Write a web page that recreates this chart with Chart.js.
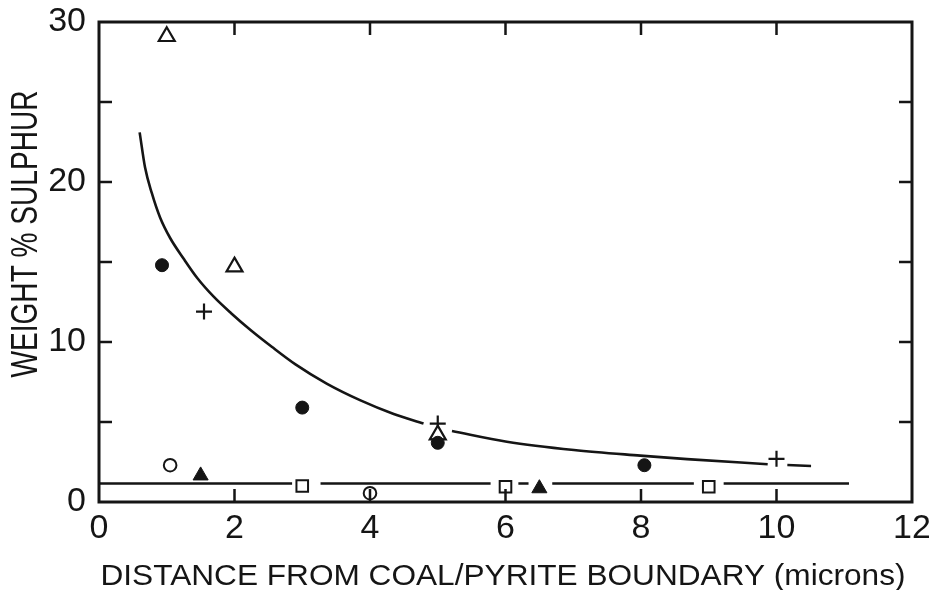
<!DOCTYPE html>
<html>
<head>
<meta charset="utf-8">
<script src="https://cdn.jsdelivr.net/npm/chart.js@4/dist/chart.umd.min.js"></script>
<style>
  html, body { margin: 0; padding: 0; background: #fff; }
  #wrap { width: 929px; height: 590px; position: relative; }
</style>
</head>
<body>
<div id="wrap"><canvas id="c" width="929" height="590"></canvas></div>
<script>
// Axis ranges and tick spacing
const xRange = [0, 12];
const xStep = 2;
const yRange = [0, 30];
const yStep = 5;
const yLabelEvery = 10;

// Axis titles
const xTitle = 'DISTANCE FROM COAL/PYRITE BOUNDARY (microns)';
const yTitle = 'WEIGHT % SULPHUR';

// Measured points, one pair of arrays per symbol
const filledCircleX = [0.93, 3.0, 5.0, 8.05];
const filledCircleY = [14.8, 5.9, 3.7, 2.3];
const openTriangleX = [1.0, 2.0, 5.0];
const openTriangleY = [29.1, 14.7, 4.2];
const plusX = [1.55, 5.0, 10.0];
const plusY = [11.9, 4.9, 2.7];
const openCircleX = [1.05, 4.0];
const openCircleY = [2.3, 0.55];
const filledTriangleX = [1.5, 6.5];
const filledTriangleY = [1.65, 0.85];
const squareX = [3.0, 6.0, 9.0];
const squareY = [1.0, 0.95, 0.95];

// Decay curve through the upper points (null = break around a symbol)
const curveX = [0.60, 0.68, 0.78, 0.90, 1.05, 1.25, 1.45, 1.70, 1.95, 2.25, 2.55, 2.90, 3.36, 3.86, 4.35, 4.79, null, 5.21, 6.02, 7.01, 7.99, 8.68, 9.87, null, 10.16, 10.51];
const curveY = [23.1, 20.9, 19.3, 17.8, 16.5, 15.2, 14.0, 12.8, 11.8, 10.7, 9.7, 8.6, 7.4, 6.35, 5.5, 4.9, null, 4.44, 3.77, 3.25, 2.9, 2.68, 2.36, null, 2.31, 2.25];

// Flat background level (null = break around a symbol)
const baseX = [0, 2.85, null, 3.27, 5.78, null, 6.19, 6.34, null, 6.69, 8.78, null, 9.22, 11.07];
const baseY = [1.16, 1.16, null, 1.16, 1.16, null, 1.16, 1.16, null, 1.16, 1.16, null, 1.16, 1.16];

const INK = '#151515';
const FONT = '"Liberation Sans", Arial, sans-serif';

const pts = (xs, ys) => xs.map((x, i) => ({ x: x === null ? 0 : x, y: ys[i] }));

function markerSet(xs, ys, style, radius, filled, border) {
  return {
    type: 'scatter',
    data: pts(xs, ys),
    pointStyle: style,
    pointRadius: radius,
    pointHoverRadius: radius,
    pointBackgroundColor: filled ? INK : '#fff',
    pointBorderColor: INK,
    pointBorderWidth: border,
    showLine: false
  };
}

function lineSet(xs, ys, width) {
  return {
    type: 'line',
    data: pts(xs, ys),
    borderColor: INK,
    borderWidth: width,
    pointRadius: 0,
    fill: false,
    spanGaps: false,
    cubicInterpolationMode: 'monotone',
    borderCapStyle: 'butt'
  };
}

// Scale sizes are fixed so the plot box sits where the figure wants it
function fixScale(size, key) {
  return s => {
    s[key] = size;
    s.paddingTop = s.paddingBottom = s.paddingLeft = s.paddingRight = 0;
  };
}

// Draw a string so that it spans a given length along its baseline
function fitText(ctx, text, x, y, length, angle) {
  ctx.save();
  ctx.translate(x, y);
  ctx.rotate(angle);
  const w = ctx.measureText(text).width;
  ctx.scale(length / w, 1);
  ctx.fillText(text, 0, 0);
  ctx.restore();
}

// Closed frame with inward ticks on all four sides, plus axis titles
const framePlugin = {
  id: 'frame',
  afterDatasetsDraw(chart) {
    const { ctx, chartArea: a, scales } = chart;
    const tl = 13;
    ctx.save();
    ctx.strokeStyle = INK;
    ctx.lineWidth = 3;
    ctx.lineCap = 'square';
    ctx.strokeRect(a.left, a.top, a.right - a.left, a.bottom - a.top);
    ctx.lineWidth = 2.5;
    ctx.lineCap = 'butt';
    ctx.beginPath();
    scales.x.ticks.forEach(t => {
      if (t.value <= xRange[0] || t.value >= xRange[1]) return;
      const px = scales.x.getPixelForValue(t.value);
      ctx.moveTo(px, a.bottom); ctx.lineTo(px, a.bottom - tl);
      ctx.moveTo(px, a.top); ctx.lineTo(px, a.top + tl);
    });
    scales.y.ticks.forEach(t => {
      if (t.value <= yRange[0] || t.value >= yRange[1]) return;
      const py = scales.y.getPixelForValue(t.value);
      ctx.moveTo(a.left, py); ctx.lineTo(a.left + tl, py);
      ctx.moveTo(a.right, py); ctx.lineTo(a.right - tl, py);
    });
    ctx.stroke();
    ctx.restore();
  },
  afterDraw(chart) {
    const { ctx } = chart;
    ctx.save();
    ctx.fillStyle = INK;
    ctx.textAlign = 'center';
    ctx.textBaseline = 'alphabetic';
    ctx.font = '30px ' + FONT;
    fitText(ctx, xTitle, 503, 585, 805, 0);
    ctx.font = '36px ' + FONT;
    fitText(ctx, yTitle, 37, 234, 287, -Math.PI / 2);
    ctx.restore();
  }
};

new Chart(document.getElementById('c'), {
  type: 'scatter',
  data: {
    datasets: [
      lineSet(curveX, curveY, 2.6),
      lineSet(baseX, baseY, 2.4),
      markerSet(filledCircleX, filledCircleY, 'circle', 6.5, true, 1),
      markerSet(openTriangleX, openTriangleY, 'triangle', 9.2, false, 2.2),
      markerSet(plusX, plusY, 'cross', 8, false, 2.2),
      markerSet(openCircleX, openCircleY, 'circle', 6.3, false, 2),
      markerSet(filledTriangleX, filledTriangleY, 'triangle', 8.7, true, 1),
      markerSet(squareX, squareY, 'rect', 8.2, false, 2)
    ]
  },
  options: {
    responsive: false,
    animation: false,
    events: [],
    layout: { padding: { left: 0, right: 17, top: 22, bottom: 0 } },
    plugins: { legend: { display: false }, tooltip: { enabled: false } },
    scales: {
      x: {
        type: 'linear',
        min: xRange[0], max: xRange[1],
        afterFit: fixScale(88, 'height'),
        border: { display: false },
        grid: { display: false, drawTicks: false },
        ticks: {
          stepSize: xStep,
          padding: 6,
          color: INK,
          font: { family: FONT, size: 34 },
          maxRotation: 0,
          autoSkip: false
        }
      },
      y: {
        type: 'linear',
        min: yRange[0], max: yRange[1],
        afterFit: fixScale(99, 'width'),
        border: { display: false },
        grid: { display: false, drawTicks: false },
        ticks: {
          stepSize: yStep,
          padding: 13,
          color: INK,
          font: { family: FONT, size: 34 },
          callback: v => (v % yLabelEvery === 0 ? String(v) : '')
        }
      }
    }
  },
  plugins: [framePlugin]
});
</script>
</body>
</html>
